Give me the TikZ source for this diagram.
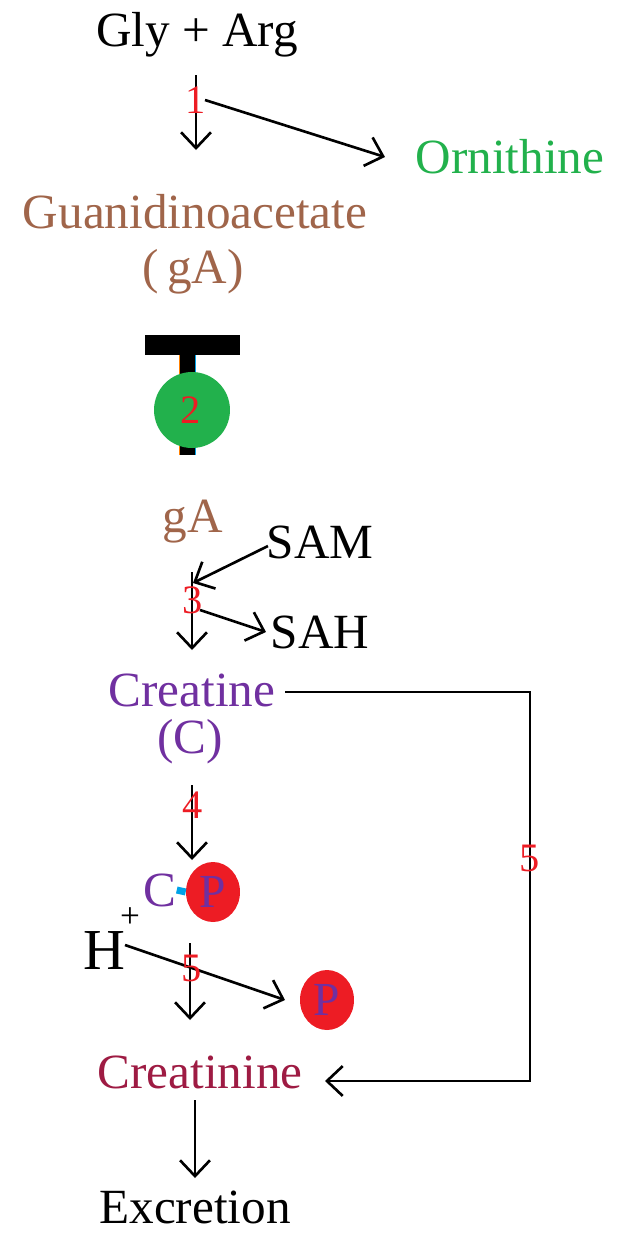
\documentclass[tikz,border=0pt]{standalone}
\usepackage{fontspec}
\setmainfont{Liberation Serif}
\usetikzlibrary{arrows.meta,shapes.geometric}
\definecolor{brn}{HTML}{A0654A}
\definecolor{prp}{HTML}{7030A0}
\definecolor{grn}{HTML}{22B14C}
\definecolor{rd}{HTML}{ED1C24}
\definecolor{crn}{HTML}{9E1B43}
\definecolor{cyn}{HTML}{00A2E8}
\tikzset{
  lbl/.style={inner sep=0pt, font=\fontsize{28}{32}\selectfont},
  num/.style={inner sep=0pt, text=rd, font=\fontsize{23}{28}\selectfont},
  arr/.style={line width=1.5pt, -{Straight Barb[length=9pt,width=17pt,line width=1.5pt]}},
  pball/.style={fill=rd, draw=none, ellipse, minimum width=1.08cm, minimum height=1.2cm, inner sep=0pt, text=prp, font=\fontsize{27}{32}\selectfont}
}
\begin{document}
\begin{tikzpicture}[x=0.02cm,y=-0.02cm]
\useasboundingbox (0,0) rectangle (621,1235);
% texts
\node[lbl] (gly) at (197,35) {Gly + Arg};
\node[lbl, text=grn] (orn) at (510,157) {Ornithine};
\node[lbl, text=brn] (guan) at (195,212) {Guanidinoacetate};
\node[lbl, text=brn] (gA1) at (193,272) {(\,gA)};
\node[lbl, text=brn] (gA2) at (193,522) {gA};
\node[lbl] (sam) at (320,542) {SAM};
\node[lbl] (sah) at (320,632) {SAH};
\node[lbl, text=prp] (crt) at (192,690) {Creatine};
\node[lbl, text=prp] (cC) at (190,742) {(C)};
\node[lbl, text=prp] (c2) at (160,890) {C};
\node[pball] (p1) at (213,892) {P};
\node[pball] (p2) at (327,1000) {P};
\node[inner sep=0pt, font=\fontsize{33}{38}\selectfont] (h) at (104,951) {H};
\node[inner sep=0pt, font=\fontsize{20}{24}\selectfont] (hp) at (130,918) {+};
\node[lbl, text=crn] (crn) at (200,1072) {Creatinine};
\node[lbl] (exc) at (195,1207) {Excretion};
% inhibitor T
\fill (145,335) rectangle (240,355);
\fill (180,355) rectangle (195,455);
\draw[orange, line width=0.5pt] (179.5,355) -- (179.5,455);
\draw[cyn, line width=0.5pt] (195.5,355) -- (195.5,455);
\node[circle, fill=grn, minimum size=1.52cm, inner sep=0pt] (e2) at (192,410) {};
% coordinates
\coordinate (a1s) at (196,75);
\coordinate (a1e) at (196,150);
\coordinate (b1) at (205,100);
\coordinate (o1) at (385,157);
\coordinate (sm) at (268,546);
\coordinate (s3) at (193,583);
\coordinate (a3s) at (192,572);
\coordinate (a3e) at (192,650);
\coordinate (b3) at (200,610);
\coordinate (sh) at (266,632);
\coordinate (a4s) at (192,785);
\coordinate (a4e) at (192,860);
\coordinate (a5s) at (190,943);
\coordinate (a5e) at (190,1020);
\coordinate (a6s) at (195,1100);
\coordinate (a6e) at (195,1178);
\coordinate (hs) at (125,945);
\coordinate (pe) at (285,1000);
\coordinate (c5) at (285,692);
\coordinate (k1) at (530,692);
\coordinate (k2) at (530,1081);
\coordinate (ce) at (325,1081);
% connectors
\draw[arr] (a1s) -- (a1e);
\draw[arr] (b1) -- (o1);
\draw[arr] (sm) -- (s3);
\draw[arr] (a3s) -- (a3e);
\draw[arr] (b3) -- (sh);
\draw[arr] (a4s) -- (a4e);
\draw[line width=4pt, cyn] (c2.east) -- (p1.west);
\draw[arr] (a5s) -- (a5e);
\draw[arr] (hs) -- (pe);
\draw[arr] (c5) -- (k1) -- (k2) -- (ce);
\draw[arr] (a6s) -- (a6e);
% numbers
\node[num] (n1) at (196,100) {1};
\node[num] (n2) at (191,410) {2};
\node[num] (n3) at (193,600) {3};
\node[num] (n4) at (193,805) {4};
\node[num] (n5a) at (192,968) {5};
\node[num] (n5b) at (530,858) {5};
\end{tikzpicture}
\end{document}
